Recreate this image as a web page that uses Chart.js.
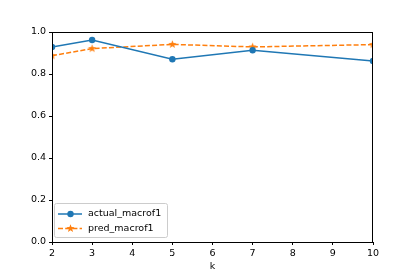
<!DOCTYPE html>
<html>
<head>
<meta charset="utf-8">
<script src="https://cdn.jsdelivr.net/npm/chart.js@4"></script>
<style>
  html, body { margin: 0; padding: 0; background: #fff; }
  #wrap { width: 415px; height: 277px; }
</style>
</head>
<body>
<div id="wrap"><canvas id="chart" width="415" height="277"></canvas></div>
<script>
// data
const kValues = [2, 3, 5, 7, 10];
const actualMacroF1 = [0.929, 0.962, 0.870, 0.913, 0.862];
const predMacroF1 = [0.887, 0.921, 0.941, 0.929, 0.940];
const seriesNames = ['actual_macrof1', 'pred_macrof1'];
const xTicks = [2, 3, 4, 5, 6, 7, 8, 9, 10];
const yTicks = [0.0, 0.2, 0.4, 0.6, 0.8, 1.0];

const BLUE = '#1f77b4';
const ORANGE = '#ff7f0e';
const FONT = { family: 'DejaVu Sans', size: 9.5 };

// filled 5-point star like matplotlib's '*'
const makeStar = (color, r) => {
    const c = document.createElement('canvas');
    const s = Math.ceil(r * 2 + 2);
    c.width = s; c.height = s;
    const g = c.getContext('2d');
    g.translate(s / 2, s / 2);
    g.beginPath();
    for (let i = 0; i < 10; i++) {
        const rad = i % 2 === 0 ? r : r * 0.42;
        const a = -Math.PI / 2 + i * Math.PI / 5;
        g.lineTo(rad * Math.cos(a), rad * Math.sin(a));
    }
    g.closePath();
    g.fillStyle = color;
    g.fill();
    return c;
};
const starImg = makeStar(ORANGE, 4.3);

const toPoints = ys => kValues.map((k, i) => ({ x: k, y: ys[i] }));

// box around the axes
const frame = {
    id: 'frame',
    afterDatasetsDraw(chart) {
        const { ctx, chartArea: a } = chart;
        ctx.save();
        ctx.strokeStyle = '#000';
        ctx.lineWidth = 1;
        ctx.strokeRect(Math.round(a.left) + 0.5, Math.round(a.top) + 0.5,
            Math.round(a.right - a.left) - 1, Math.round(a.bottom - a.top));
        ctx.restore();
    }
};

// matplotlib-like legend, lower left inside the axes
const mplLegend = {
    id: 'mplLegend',
    afterDraw(chart) {
        const { ctx, chartArea: a } = chart;
        const x0 = a.left + 2, w = 113, h = 34;
        const y0 = a.bottom - 5 - h;
        ctx.save();
        ctx.fillStyle = 'rgba(255,255,255,0.8)';
        ctx.strokeStyle = '#cccccc';
        ctx.lineWidth = 1;
        ctx.beginPath();
        ctx.roundRect(x0 + 0.5, y0 + 0.5, w, h, 2);
        ctx.fill();
        ctx.stroke();
        ctx.font = '9.5px "DejaVu Sans"';
        ctx.textBaseline = 'middle';
        chart.data.datasets.forEach((ds, i) => {
            const cy = y0 + 11 + i * 14.5;
            ctx.strokeStyle = ds.borderColor;
            ctx.lineWidth = 1.5;
            ctx.setLineDash(ds.borderDash || []);
            ctx.beginPath();
            ctx.moveTo(x0 + 4, cy);
            ctx.lineTo(x0 + 28, cy);
            ctx.stroke();
            ctx.setLineDash([]);
            if (ds.pointStyle === 'circle') {
                ctx.fillStyle = ds.borderColor;
                ctx.beginPath();
                ctx.arc(x0 + 16.5, cy, 3.2, 0, Math.PI * 2);
                ctx.fill();
            } else {
                ctx.drawImage(ds.pointStyle, x0 + 16.5 - ds.pointStyle.width / 2, cy - ds.pointStyle.height / 2);
            }
            ctx.fillStyle = '#000';
            ctx.fillText(ds.label, x0 + 34, cy);
        });
        ctx.restore();
    }
};

new Chart(document.getElementById('chart').getContext('2d'), {
    type: 'line',
    data: {
        datasets: [{
            label: seriesNames[0],
            data: toPoints(actualMacroF1),
            borderColor: BLUE,
            backgroundColor: BLUE,
            borderWidth: 1.5,
            pointStyle: 'circle',
            pointRadius: 3.2,
            pointBorderWidth: 0,
            tension: 0,
            clip: 0
        }, {
            label: seriesNames[1],
            data: toPoints(predMacroF1),
            borderColor: ORANGE,
            backgroundColor: ORANGE,
            borderWidth: 1.5,
            borderDash: [5, 2.2],
            pointStyle: starImg,
            pointRadius: 4.3,
            tension: 0,
            clip: 0
        }]
    },
    options: {
        responsive: false,
        animation: false,
        devicePixelRatio: 1,
        layout: { padding: { top: 32, right: 42, left: 0, bottom: 0 } },
        plugins: {
            legend: { display: false },
            tooltip: { enabled: false }
        },
        scales: {
            x: {
                type: 'linear',
                min: 2,
                max: 10,
                afterBuildTicks: s => { s.ticks = xTicks.map(v => ({ value: v })); },
                afterFit: s => { s.height = 35; },
                grid: { drawOnChartArea: false, drawTicks: true, tickLength: 3, color: '#000' },
                border: { display: true, color: '#000' },
                ticks: { color: '#000', font: FONT, padding: 3, maxRotation: 0 },
                title: { display: true, text: 'k', color: '#000', font: FONT, padding: { top: 0, bottom: 5 } }
            },
            y: {
                min: 0,
                max: 1,
                afterBuildTicks: s => { s.ticks = yTicks.map(v => ({ value: v })); },
                afterFit: s => { s.width = 52; },
                grid: { drawOnChartArea: false, drawTicks: true, tickLength: 3, color: '#000' },
                border: { display: true, color: '#000' },
                ticks: { color: '#000', font: FONT, padding: 3, callback: v => v.toFixed(1) }
            }
        }
    },
    plugins: [frame, mplLegend]
});
</script>
</body>
</html>
